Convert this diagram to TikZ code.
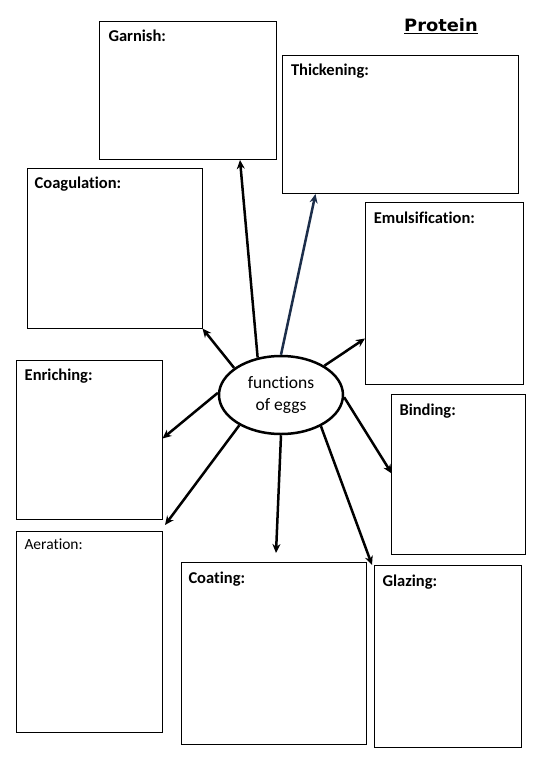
\documentclass[tikz,border=0pt]{standalone}
\usepackage{fontspec}
\setmainfont{Carlito}[Ligatures=NoCommon]
\newfontfamily\protfont{DejaVu Sans}
\usetikzlibrary{shapes.geometric,arrows.meta}
\definecolor{navyarrow}{HTML}{1C2E4A}
\begin{document}
\begin{tikzpicture}[x=1pt,y=-1pt,
  box/.style={draw=black,line width=1pt,anchor=north west,inner sep=0pt,outer sep=0pt},
  lbl/.style={anchor=base west,inner sep=0pt,font=\fontsize{16.5}{18}\selectfont\bfseries},
  lbls/.style={anchor=base west,inner sep=0pt,font=\fontsize{15.5}{17}\selectfont},
  arr/.style={line width=2.5pt,-{Stealth[length=9pt,width=8pt]}},
  center/.style={draw=black,line width=2.5pt,ellipse,minimum width=124pt,minimum height=78pt,inner sep=0pt,align=center,font=\fontsize{17.5}{22}\selectfont}]
\fill[white] (0,0) rectangle (540,780);
\useasboundingbox (0,0) rectangle (540,780);

% boxes
\node[box,minimum width=177.3pt,minimum height=137.6pt] (garnish) at (99.3,21.7) {};
\node[box,minimum width=235.2pt,minimum height=137.6pt] (thick) at (282.8,55.7) {};
\node[box,minimum width=175pt,minimum height=160pt] (coag) at (27.5,168.3) {};
\node[box,minimum width=157.9pt,minimum height=181.7pt] (emul) at (365.6,202.3) {};
\node[box,minimum width=146pt,minimum height=159.3pt] (enrich) at (16.5,360) {};
\node[box,minimum width=133.8pt,minimum height=159.7pt] (bind) at (391.7,394.3) {};
\node[box,minimum width=146.2pt,minimum height=200.6pt] (aer) at (16.3,531.7) {};
\node[box,minimum width=185pt,minimum height=181.8pt] (coat) at (181,562.5) {};
\node[box,minimum width=147.8pt,minimum height=182pt] (glaz) at (374,565.3) {};

% labels
\node[lbl] (garnishL) at ([shift={(9,20)}]garnish.north west) {Garnish:};
\node[lbl] (thickL) at ([shift={(8,19.5)}]thick.north west) {Thickening:};
\node[lbl] (coagL) at ([shift={(7,20)}]coag.north west) {Coagulation:};
\node[lbl] (emulL) at ([shift={(8,21)}]emul.north west) {Emulsification:};
\node[lbl] (enrichL) at ([shift={(8,20.7)}]enrich.north west) {Enriching:};
\node[lbl] (bindL) at ([shift={(7.6,20.7)}]bind.north west) {Binding:};
\node[lbls] (aerL) at ([shift={(8,17.6)}]aer.north west) {Aeration:};
\node[lbl] (coatL) at ([shift={(7.3,21)}]coat.north west) {Coating:};
\node[lbl] (glazL) at ([shift={(8.4,20.7)}]glaz.north west) {Glazing:};

% title
\node[anchor=base,inner sep=0pt,font=\protfont\bfseries\fontsize{17}{20}\selectfont] (title) at (441,31.7) {\scalebox{1.05}[1]{\underline{Protein}}};

% centre
\node[center] (ell) at (281,395) {functions\\of eggs};

% arrow tips
\coordinate (garnishT) at (240,160);
\coordinate (thickT) at (315.5,194);
\coordinate (coagT) at (202.5,328.5);
\coordinate (emulT) at (365,338.5);
\coordinate (enrichT) at (162.5,438.5);
\coordinate (aerT) at (165,525);
\coordinate (coatT) at (276,553);
\coordinate (glazT) at (372,565);
\coordinate (bindT) at (391.7,473.5);

% arrows
\draw[arr] (ell.122) -- (garnishT);
\draw[arr,draw=navyarrow] (ell.90) -- (thickT);
\draw[arr] (ell.150) -- (coagT);
\draw[arr] (ell.34) -- (emulT);
\draw[arr] (ell.178) -- (enrichT);
\draw[arr] (ell.216) -- (aerT);
\draw[arr] (ell.270) -- (coatT);
\draw[arr] (ell.322) -- (glazT);
\draw[arr] (ell.358) -- (bindT);
\end{tikzpicture}
\end{document}
